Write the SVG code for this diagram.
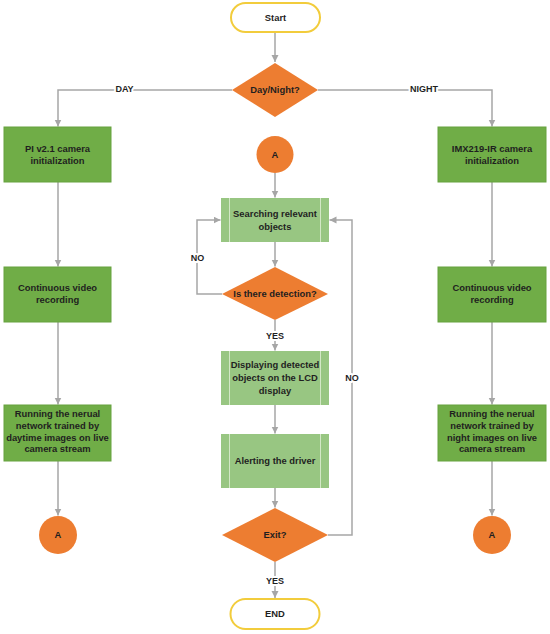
<svg xmlns="http://www.w3.org/2000/svg" width="550" height="634" viewBox="0 0 550 634">
<defs>
<marker id="ah" markerUnits="userSpaceOnUse" markerWidth="8" markerHeight="8" refX="7" refY="3.5" orient="auto">
<path d="M0,0 L7,3.5 L0,7 z" fill="#a6a6a6"/>
</marker>
</defs>
<style>
.t{font-family:"Liberation Sans",Arial,sans-serif;font-weight:bold;font-size:9.4px;fill:#1f1f1f;text-anchor:middle}
.lbl{font-family:"Liberation Sans",Arial,sans-serif;font-weight:bold;font-size:9px;fill:#1f1f1f;text-anchor:middle;stroke:#fff;stroke-width:4px;paint-order:stroke;stroke-linejoin:round}
.term{fill:#fff;stroke:#f2cc3c;stroke-width:2}
.dec{fill:#ed7d31}
.conn{fill:#ed7d31}
.proc{fill:#70ad47;stroke:#66a23f;stroke-width:1}
.sub{fill:#98c682}
.subl{stroke:#d3e8c6;stroke-width:1}
.c{fill:none;stroke:#a6a6a6;stroke-width:1.5;marker-end:url(#ah)}
</style>
<rect width="550" height="634" fill="#fff"/>
<g id="connectors">
<path class="c" d="M275,32 V62"/>
<path class="c" d="M232,90 H58 V126.5"/>
<path class="c" d="M318,90 H492 V126.5"/>
<path class="c" d="M58,182 V266.5"/>
<path class="c" d="M58,322 V404.5"/>
<path class="c" d="M58,461 V515.5"/>
<path class="c" d="M492,182 V266.5"/>
<path class="c" d="M492,322 V404.5"/>
<path class="c" d="M492,461 V515.5"/>
<path class="c" d="M275,173 V197.5"/>
<path class="c" d="M275,242 V266.5"/>
<path class="c" d="M222,294 H197 V220 H220.5"/>
<path class="c" d="M275,320 V350.5"/>
<path class="c" d="M275,405 V433.5"/>
<path class="c" d="M275,488 V507.5"/>
<path class="c" d="M328,535 H352 V220 H329.5"/>
<path class="c" d="M275,562 V598"/>
<text class="lbl" x="124.5" y="92.3">DAY</text>
<text class="lbl" x="424" y="92.3">NIGHT</text>
<text class="lbl" x="197.5" y="260.6">NO</text>
<text class="lbl" x="275" y="339">YES</text>
<text class="lbl" x="352" y="381">NO</text>
<text class="lbl" x="275" y="584">YES</text>
</g>
<g id="start">
<rect class="term" x="231" y="3" width="89" height="29" rx="14.5"/>
<text class="t" x="275.5" y="21.3">Start</text>
</g>
<g id="daynight">
<polygon class="dec" points="275,63 318,90 275,117 232,90"/>
<text class="t" x="275" y="93.3">Day/Night?</text>
</g>
<g id="pi-init">
<rect class="proc" x="4" y="127" width="107" height="55"/>
<text class="t" x="57.5" y="152.3">PI v2.1 camera</text>
<text class="t" x="57.5" y="164.3">initialization</text>
</g>
<g id="imx-init">
<rect class="proc" x="438" y="127" width="108" height="55"/>
<text class="t" x="492" y="152.3">IMX219-IR camera</text>
<text class="t" x="492" y="164.3">initialization</text>
</g>
<g id="rec-day">
<rect class="proc" x="4" y="267" width="107" height="55"/>
<text class="t" x="57.5" y="291.3">Continuous video</text>
<text class="t" x="57.5" y="303.3">recording</text>
</g>
<g id="rec-night">
<rect class="proc" x="438" y="267" width="108" height="55"/>
<text class="t" x="492" y="291.3">Continuous video</text>
<text class="t" x="492" y="303.3">recording</text>
</g>
<g id="nn-day">
<rect class="proc" x="4" y="405" width="107" height="56"/>
<text class="t" x="57.5" y="417.3">Running the nerual</text>
<text class="t" x="57.5" y="429">network trained by</text>
<text class="t" x="57.5" y="440.7">daytime images on live</text>
<text class="t" x="57.5" y="452.4">camera stream</text>
</g>
<g id="nn-night">
<rect class="proc" x="438" y="405" width="108" height="56"/>
<text class="t" x="492" y="417.3">Running the nerual</text>
<text class="t" x="492" y="429">network trained by</text>
<text class="t" x="492" y="440.7">night images on live</text>
<text class="t" x="492" y="452.4">camera stream</text>
</g>
<g id="a-day">
<circle class="conn" cx="58" cy="535" r="19"/>
<text class="t" x="58" y="538.3">A</text>
</g>
<g id="a-night">
<circle class="conn" cx="492" cy="535" r="19"/>
<text class="t" x="492" y="538.3">A</text>
</g>
<g id="a-mid">
<circle class="conn" cx="275" cy="154.5" r="18.5"/>
<text class="t" x="275" y="157.8">A</text>
</g>
<g id="search">
<rect class="sub" x="221" y="198" width="108" height="44"/>
<line class="subl" x1="229.5" y1="198" x2="229.5" y2="242"/>
<line class="subl" x1="320.5" y1="198" x2="320.5" y2="242"/>
<text class="t" x="275" y="216.6">Searching relevant</text>
<text class="t" x="275" y="230">objects</text>
</g>
<g id="detect">
<polygon class="dec" points="275,267 328,294 275,320 222,294"/>
<text class="t" x="275" y="297.3">Is there detection?</text>
</g>
<g id="display">
<rect class="sub" x="221" y="351" width="108" height="54"/>
<line class="subl" x1="229.5" y1="351" x2="229.5" y2="405"/>
<line class="subl" x1="320.5" y1="351" x2="320.5" y2="405"/>
<text class="t" x="275" y="367.6">Displaying detected</text>
<text class="t" x="275" y="381">objects on the LCD</text>
<text class="t" x="275" y="394.3">display</text>
</g>
<g id="alert">
<rect class="sub" x="221" y="434" width="108" height="54"/>
<line class="subl" x1="229.5" y1="434" x2="229.5" y2="488"/>
<line class="subl" x1="320.5" y1="434" x2="320.5" y2="488"/>
<text class="t" x="275" y="464">Alerting the driver</text>
</g>
<g id="exit">
<polygon class="dec" points="275,508 328,535 275,562 222,535"/>
<text class="t" x="275" y="538.3">Exit?</text>
</g>
<g id="end">
<rect class="term" x="230.5" y="599" width="89" height="30" rx="15"/>
<text class="t" x="275" y="617.3">END</text>
</g>
</svg>
